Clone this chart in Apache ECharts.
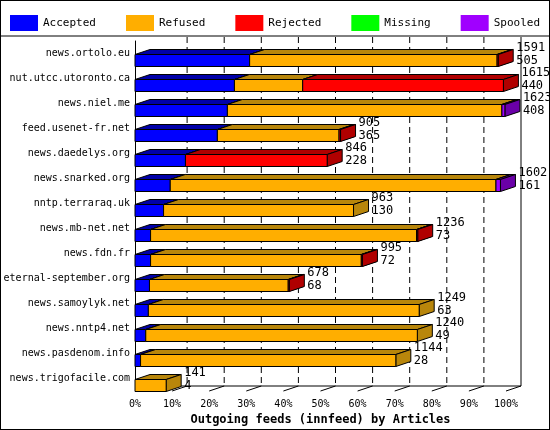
<!DOCTYPE html>
<html><head><meta charset="utf-8">
<script src="https://cdn.jsdelivr.net/npm/echarts@6/dist/echarts.min.js"></script>
<style>html,body{margin:0;padding:0;background:#fff}#c{width:548px;height:428px;border:1px solid #000}</style>
</head><body><div id="c"></div>
<script>
const categories = ["news.ortolo.eu","nut.utcc.utoronto.ca","news.niel.me","feed.usenet-fr.net","news.daedelys.org","news.snarked.org","nntp.terraraq.uk","news.mb-net.net","news.fdn.fr","eternal-september.org","news.samoylyk.net","news.nntp4.net","news.pasdenom.info","news.trigofacile.com"];
const accepted = [30.9,26.8,24.9,22.2,13.6,9.5,7.7,4.2,4.2,3.9,3.6,2.9,1.5,0];
const refused  = [66.7,18.4,74.0,32.8,0,87.8,51.2,71.7,56.8,37.4,73.0,73.2,68.8,8.4];
const rejected = [0.3,54.1,0,0.4,38.2,0,0,0.3,0.3,0.3,0,0,0,0];
const missing  = [0,0,0,0,0,0,0,0,0,0,0,0,0,0];
const spooled  = [0,0,0.8,0,0,1.2,0,0,0,0,0,0,0,0];
const totals   = [1591,1615,1623,905,846,1602,963,1236,995,678,1249,1240,1144,141];
const seconds  = [505,440,408,365,228,161,130,73,72,68,63,49,28,4];
const ticks = [0,10,20,30,40,50,60,70,80,90,100];

const DX=15, DY=5, FONT='"DejaVu Sans Mono", monospace';
const segs=[["Accepted",accepted,"#0000ff","#0000a8"],["Refused",refused,"#ffae00","#b8860b"],["Rejected",rejected,"#ff0000","#b00000"],["Missing",missing,"#00ff00","#00a000"],["Spooled",spooled,"#a000ff","#6a00a8"]];
const series=[];
const starts=categories.map(()=>0);
segs.forEach(([name,vals,c,d])=>{
  const data=vals.map((v,i)=>{const s=starts[i];starts[i]+=v;return [s,s+v,i];});
  series.push({type:'custom',name,itemStyle:{color:c},data,encode:{x:[0,1],y:2},
    renderItem(p,api){
      const a=api.value(0),b=api.value(1),i=api.value(2);
      if(b-a<=0) return;
      const p0=api.coord([a,i]),p1=api.coord([b,i]);
      const y0=p0[1]+1,y1=y0+12,x0=p0[0],x1=p1[0];
      const st={stroke:'#000',lineWidth:1};
      return {type:'group',children:[
        {type:'polygon',shape:{points:[[x0,y0],[x0+DX,y0-DY],[x1+DX,y0-DY],[x1,y0]]},style:Object.assign({fill:d},st)},
        {type:'polygon',shape:{points:[[x1,y0],[x1+DX,y0-DY],[x1+DX,y1-DY],[x1,y1]]},style:Object.assign({fill:d},st)},
        {type:'rect',shape:{x:x0,y:y0,width:x1-x0,height:12},style:Object.assign({fill:c},st)}
      ]};
    }});
});
series.unshift({type:'custom',name:'grid',silent:true,data:ticks.map(t=>[t]),encode:{x:0},z:1,
  renderItem(p,api){
    const t=api.value(0);const c=api.coord([t,0]);
    const top=p.coordSys.y, bot=p.coordSys.y+p.coordSys.height;
    const x=c[0];const ch=[];
    if(t>0) ch.push({type:'line',shape:{x1:x+DX,y1:top-4,x2:x+DX,y2:bot-DY},style:{stroke:'#000',lineWidth:1,lineDash:t<100?[6,4]:null}});
    ch.push({type:'line',shape:{x1:x,y1:bot,x2:x+DX,y2:bot-DY},style:{stroke:'#000',lineWidth:1}});
    if(t===0) ch.push({type:'line',shape:{x1:x+DX,y1:bot-DY,x2:api.coord([100,0])[0]+DX,y2:bot-DY},style:{stroke:'#000',lineWidth:1}});
    return {type:'group',children:ch};
  }});
series.push({type:'custom',name:'labels',silent:true,data:totals.map((t,i)=>[starts[i],i]),encode:{x:0,y:1},z:5,
  renderItem(p,api){
    const i=api.value(1);const c=api.coord([api.value(0),i]);
    return {type:'group',children:[
      {type:'text',x:c[0]+DX+3,y:c[1]-12,style:{text:String(totals[i]),font:'12px '+FONT,fill:'#000'}},
      {type:'text',x:c[0]+DX+3,y:c[1]+1,style:{text:String(seconds[i]),font:'12px '+FONT,fill:'#000'}}
    ]};
  }});
const chart=echarts.init(document.getElementById('c'));
chart.setOption({animation:false,backgroundColor:'#fff',
  legend:{data:segs.map(s=>s[0]),left:4,top:9,icon:'rect',itemWidth:28,itemHeight:16,itemGap:30,textStyle:{fontFamily:FONT,fontSize:11,color:'#000'}},
  graphic:[{type:'line',shape:{x1:0,y1:35,x2:548,y2:35},style:{stroke:'#000'}}],
  grid:{left:134,right:43,top:40,bottom:38,outerBoundsMode:'none',containLabel:false},
  xAxis:{type:'value',min:0,max:100,interval:10,axisLine:{lineStyle:{color:'#000'}},axisTick:{show:false},splitLine:{show:false},
    axisLabel:{formatter:'{value}%',fontFamily:FONT,fontSize:10,color:'#000',margin:8},
    name:'Outgoing feeds (innfeed) by Articles',nameLocation:'middle',nameGap:23,nameTextStyle:{fontFamily:FONT,fontSize:12,fontWeight:'bold',color:'#000'}},
  yAxis:{type:'category',data:categories,inverse:true,axisLine:{lineStyle:{color:'#000'}},axisTick:{show:false},
    axisLabel:{fontFamily:FONT,fontSize:10,color:'#000',margin:5}},
  series});
</script></body></html>
